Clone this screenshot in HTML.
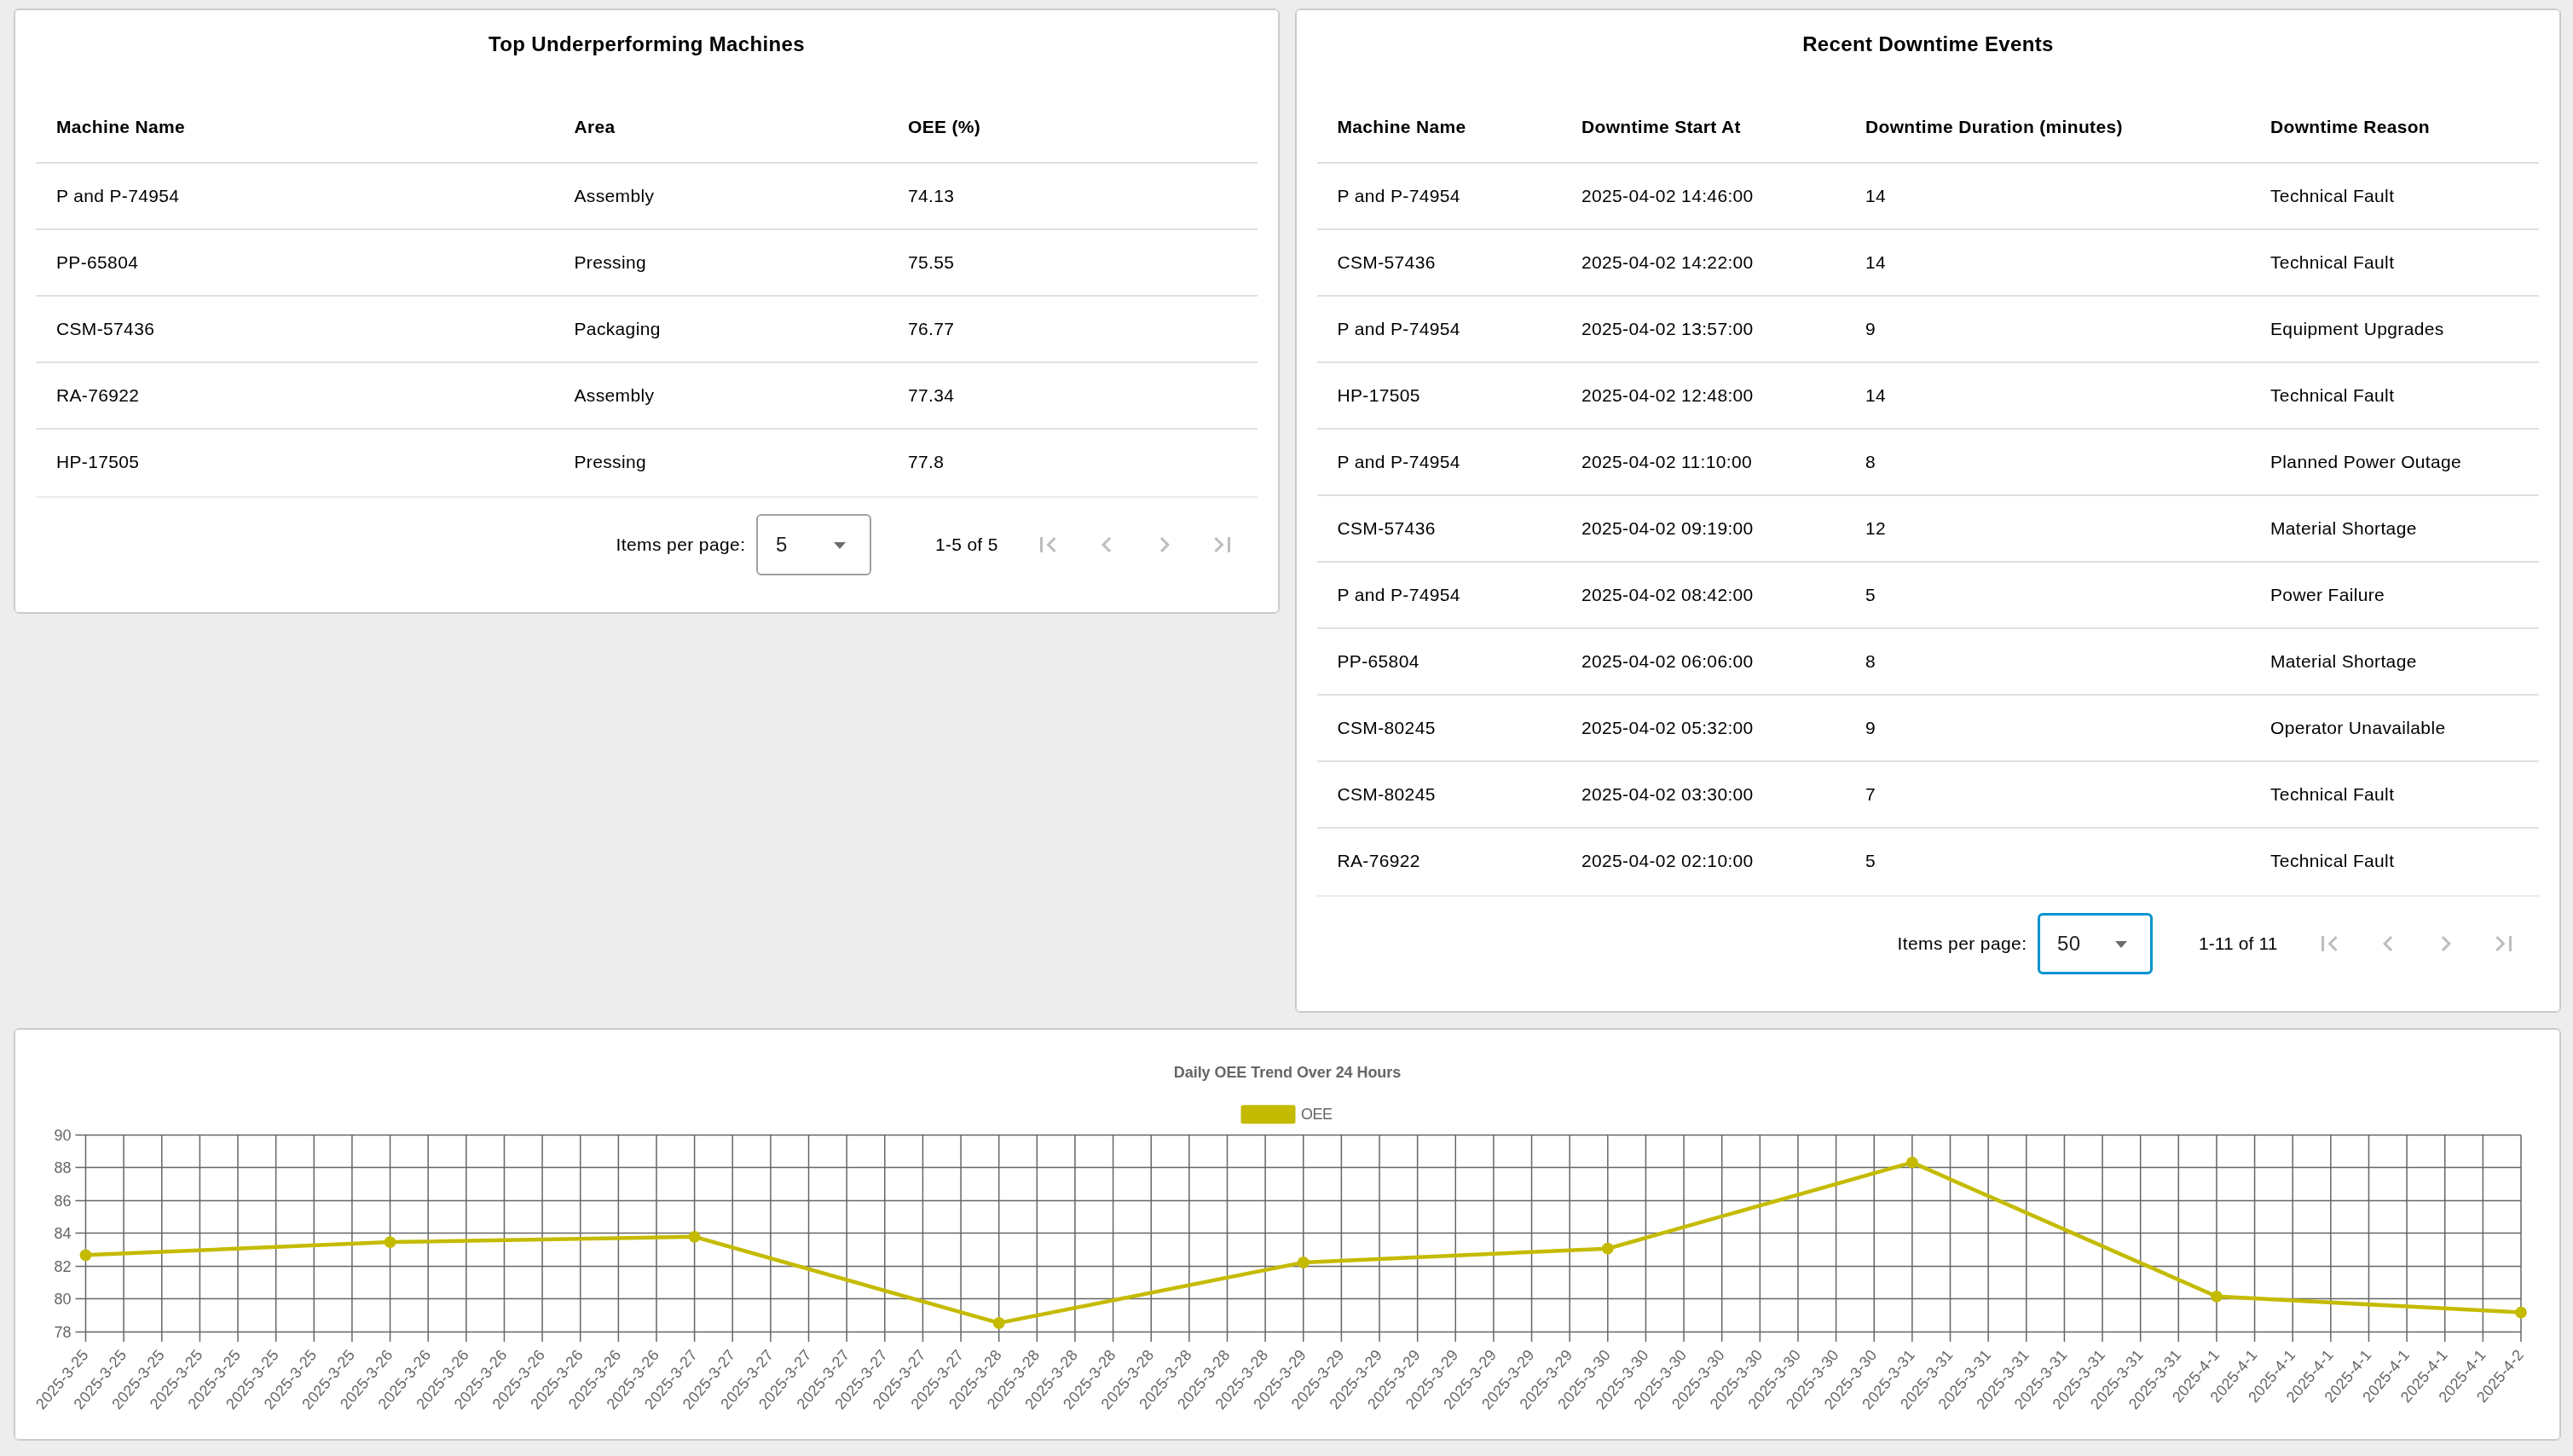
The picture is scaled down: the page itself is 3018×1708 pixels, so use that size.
<!DOCTYPE html>
<html><head><meta charset="utf-8"><title>OEE Dashboard</title>
<style>
*{box-sizing:border-box;margin:0;padding:0}
html,body{width:3018px;height:1708px;overflow:hidden;background:#ededed;font-family:"Liberation Sans",sans-serif;color:#000}
.card{position:absolute;background:#fff;border:1px solid #c9c9c9;border-radius:6px;box-shadow:inset 0 0 0 1px #cdcdcd}
.t{position:absolute;white-space:nowrap;font-size:21px;line-height:21px;letter-spacing:.35px}
.b{font-weight:bold;letter-spacing:.33px}
.ttl{position:absolute;white-space:nowrap;font-weight:bold;font-size:24px;line-height:24px;letter-spacing:.36px;text-align:center}
.ln{position:absolute;height:2px;background:#e0e0e0}
.ln2{position:absolute;height:2px;background:#ececec}
.pg{position:absolute;white-space:nowrap;font-size:21px;line-height:21px;letter-spacing:.4px}
.sel{position:absolute;width:135px;height:72px;border:2px solid #a0a0a0;border-radius:6px}
.sel.f{border:3px solid #0093d0}
.arr{position:absolute;width:0;height:0;border-left:7.5px solid transparent;border-right:7.5px solid transparent;border-top:8px solid #6b6b6b}
.ic{position:absolute;width:36px;height:36px}
</style></head>
<body><div id="root" style="position:absolute;left:0;top:0;width:3018px;height:1708px;will-change:transform">
<div class="card" style="left:16px;top:10px;width:1485px;height:710px"></div>
<div class="card" style="left:1519px;top:10px;width:1485px;height:1178px"></div>
<div class="card" style="left:16px;top:1206px;width:2988px;height:484px"></div>
<div class="ttl" style="left:18px;width:1481px;top:40px">Top Underperforming Machines</div>
<div class="ttl" style="left:1521px;width:1481px;top:40px">Recent Downtime Events</div>
<div class="t b" style="left:66px;top:138px;">Machine Name</div>
<div class="t b" style="left:673.5px;top:138px;">Area</div>
<div class="t b" style="left:1065px;top:138px;">OEE (%)</div>
<div class="ln" style="left:42px;width:1433px;top:190px"></div>
<div class="ln" style="left:42px;width:1433px;top:268px"></div>
<div class="ln" style="left:42px;width:1433px;top:346px"></div>
<div class="ln" style="left:42px;width:1433px;top:424px"></div>
<div class="ln" style="left:42px;width:1433px;top:502px"></div>
<div class="t" style="left:66px;top:219px;">P and P-74954</div>
<div class="t" style="left:673.5px;top:219px;">Assembly</div>
<div class="t" style="left:1065px;top:219px;">74.13</div>
<div class="t" style="left:66px;top:297px;">PP-65804</div>
<div class="t" style="left:673.5px;top:297px;">Pressing</div>
<div class="t" style="left:1065px;top:297px;">75.55</div>
<div class="t" style="left:66px;top:375px;">CSM-57436</div>
<div class="t" style="left:673.5px;top:375px;">Packaging</div>
<div class="t" style="left:1065px;top:375px;">76.77</div>
<div class="t" style="left:66px;top:453px;">RA-76922</div>
<div class="t" style="left:673.5px;top:453px;">Assembly</div>
<div class="t" style="left:1065px;top:453px;">77.34</div>
<div class="t" style="left:66px;top:531px;">HP-17505</div>
<div class="t" style="left:673.5px;top:531px;">Pressing</div>
<div class="t" style="left:1065px;top:531px;">77.8</div>
<div class="ln2" style="left:42px;width:1433px;top:582px"></div>
<div class="t b" style="left:1568.5px;top:138px;">Machine Name</div>
<div class="t b" style="left:1855px;top:138px;">Downtime Start At</div>
<div class="t b" style="left:2188px;top:138px;">Downtime Duration (minutes)</div>
<div class="t b" style="left:2663px;top:138px;">Downtime Reason</div>
<div class="ln" style="left:1545px;width:1433px;top:190px"></div>
<div class="ln" style="left:1545px;width:1433px;top:268px"></div>
<div class="ln" style="left:1545px;width:1433px;top:346px"></div>
<div class="ln" style="left:1545px;width:1433px;top:424px"></div>
<div class="ln" style="left:1545px;width:1433px;top:502px"></div>
<div class="ln" style="left:1545px;width:1433px;top:580px"></div>
<div class="ln" style="left:1545px;width:1433px;top:658px"></div>
<div class="ln" style="left:1545px;width:1433px;top:736px"></div>
<div class="ln" style="left:1545px;width:1433px;top:814px"></div>
<div class="ln" style="left:1545px;width:1433px;top:892px"></div>
<div class="ln" style="left:1545px;width:1433px;top:970px"></div>
<div class="t" style="left:1568.5px;top:219px;">P and P-74954</div>
<div class="t" style="left:1855px;top:219px;">2025-04-02 14:46:00</div>
<div class="t" style="left:2188px;top:219px;">14</div>
<div class="t" style="left:2663px;top:219px;">Technical Fault</div>
<div class="t" style="left:1568.5px;top:297px;">CSM-57436</div>
<div class="t" style="left:1855px;top:297px;">2025-04-02 14:22:00</div>
<div class="t" style="left:2188px;top:297px;">14</div>
<div class="t" style="left:2663px;top:297px;">Technical Fault</div>
<div class="t" style="left:1568.5px;top:375px;">P and P-74954</div>
<div class="t" style="left:1855px;top:375px;">2025-04-02 13:57:00</div>
<div class="t" style="left:2188px;top:375px;">9</div>
<div class="t" style="left:2663px;top:375px;">Equipment Upgrades</div>
<div class="t" style="left:1568.5px;top:453px;">HP-17505</div>
<div class="t" style="left:1855px;top:453px;">2025-04-02 12:48:00</div>
<div class="t" style="left:2188px;top:453px;">14</div>
<div class="t" style="left:2663px;top:453px;">Technical Fault</div>
<div class="t" style="left:1568.5px;top:531px;">P and P-74954</div>
<div class="t" style="left:1855px;top:531px;">2025-04-02 11:10:00</div>
<div class="t" style="left:2188px;top:531px;">8</div>
<div class="t" style="left:2663px;top:531px;">Planned Power Outage</div>
<div class="t" style="left:1568.5px;top:609px;">CSM-57436</div>
<div class="t" style="left:1855px;top:609px;">2025-04-02 09:19:00</div>
<div class="t" style="left:2188px;top:609px;">12</div>
<div class="t" style="left:2663px;top:609px;">Material Shortage</div>
<div class="t" style="left:1568.5px;top:687px;">P and P-74954</div>
<div class="t" style="left:1855px;top:687px;">2025-04-02 08:42:00</div>
<div class="t" style="left:2188px;top:687px;">5</div>
<div class="t" style="left:2663px;top:687px;">Power Failure</div>
<div class="t" style="left:1568.5px;top:765px;">PP-65804</div>
<div class="t" style="left:1855px;top:765px;">2025-04-02 06:06:00</div>
<div class="t" style="left:2188px;top:765px;">8</div>
<div class="t" style="left:2663px;top:765px;">Material Shortage</div>
<div class="t" style="left:1568.5px;top:843px;">CSM-80245</div>
<div class="t" style="left:1855px;top:843px;">2025-04-02 05:32:00</div>
<div class="t" style="left:2188px;top:843px;">9</div>
<div class="t" style="left:2663px;top:843px;">Operator Unavailable</div>
<div class="t" style="left:1568.5px;top:921px;">CSM-80245</div>
<div class="t" style="left:1855px;top:921px;">2025-04-02 03:30:00</div>
<div class="t" style="left:2188px;top:921px;">7</div>
<div class="t" style="left:2663px;top:921px;">Technical Fault</div>
<div class="t" style="left:1568.5px;top:999px;">RA-76922</div>
<div class="t" style="left:1855px;top:999px;">2025-04-02 02:10:00</div>
<div class="t" style="left:2188px;top:999px;">5</div>
<div class="t" style="left:2663px;top:999px;">Technical Fault</div>
<div class="ln2" style="left:1545px;width:1433px;top:1050px"></div>
<div class="pg" style="left:722.5px;top:628px;">Items per page:</div>
<div class="sel" style="left:887px;top:603px"></div>
<div class="pg" style="left:910px;top:627px;color:#212121;letter-spacing:.3px;font-size:24px;line-height:24px">5</div>
<div class="arr" style="left:977.5px;top:636px"></div>
<div class="pg" style="left:1097px;top:628px;letter-spacing:0.3px">1-5 of 5</div>
<svg class="ic" style="left:1211px;top:620.9px" viewBox="0 0 24 24"><path fill="#bdbdbd" d="M18.41 16.59L13.82 12l4.59-4.59L17 6l-6 6 6 6zM6 6h2v12H6z"/></svg>
<svg class="ic" style="left:1279.5px;top:620.9px" viewBox="0 0 24 24"><path fill="#bdbdbd" d="M15.41 7.41L14 6l-6 6 6 6 1.41-1.41L10.83 12z"/></svg>
<svg class="ic" style="left:1348px;top:620.9px" viewBox="0 0 24 24"><path fill="#bdbdbd" d="M10 6L8.59 7.41 13.17 12l-4.58 4.59L10 18l6-6z"/></svg>
<svg class="ic" style="left:1416px;top:620.9px" viewBox="0 0 24 24"><path fill="#bdbdbd" d="M5.59 7.41L10.18 12l-4.59 4.59L7 18l6-6-6-6zM16 6h2v12h-2z"/></svg>
<div class="pg" style="left:2225.5px;top:1096px;">Items per page:</div>
<div class="sel f" style="left:2390px;top:1071px"></div>
<div class="pg" style="left:2413px;top:1095px;color:#212121;letter-spacing:.3px;font-size:24px;line-height:24px">50</div>
<div class="arr" style="left:2480.5px;top:1104px"></div>
<div class="pg" style="left:2579px;top:1096px;letter-spacing:0.1px">1-11 of 11</div>
<svg class="ic" style="left:2714px;top:1088.9px" viewBox="0 0 24 24"><path fill="#bdbdbd" d="M18.41 16.59L13.82 12l4.59-4.59L17 6l-6 6 6 6zM6 6h2v12H6z"/></svg>
<svg class="ic" style="left:2782.5px;top:1088.9px" viewBox="0 0 24 24"><path fill="#bdbdbd" d="M15.41 7.41L14 6l-6 6 6 6 1.41-1.41L10.83 12z"/></svg>
<svg class="ic" style="left:2851px;top:1088.9px" viewBox="0 0 24 24"><path fill="#bdbdbd" d="M10 6L8.59 7.41 13.17 12l-4.58 4.59L10 18l6-6z"/></svg>
<svg class="ic" style="left:2919px;top:1088.9px" viewBox="0 0 24 24"><path fill="#bdbdbd" d="M5.59 7.41L10.18 12l-4.59 4.59L7 18l6-6-6-6zM16 6h2v12h-2z"/></svg>
<svg style="position:absolute;left:0;top:0" width="3018" height="1708" viewBox="0 0 3018 1708" font-family="Liberation Sans, sans-serif">
<text x="1510" y="1264.3" text-anchor="middle" font-size="18" font-weight="bold" fill="#666" letter-spacing="-0.06">Daily OEE Trend Over 24 Hours</text>
<rect x="1457" y="1297.7" width="61" height="19" fill="#c4bb00" stroke="#c4bb00" stroke-width="3" rx="1"/>
<text x="1526" y="1313.3" font-size="18" fill="#666" letter-spacing="-0.45">OEE</text>
<line x1="88.5" y1="1331.50" x2="2957.00" y2="1331.50" stroke="#666" stroke-width="1.5"/>
<text x="83.5" y="1337.80" text-anchor="end" font-size="18" fill="#666">90</text>
<line x1="88.5" y1="1369.50" x2="2957.00" y2="1369.50" stroke="#666" stroke-width="1.5"/>
<text x="83.5" y="1375.80" text-anchor="end" font-size="18" fill="#666">88</text>
<line x1="88.5" y1="1408.50" x2="2957.00" y2="1408.50" stroke="#666" stroke-width="1.5"/>
<text x="83.5" y="1414.80" text-anchor="end" font-size="18" fill="#666">86</text>
<line x1="88.5" y1="1446.50" x2="2957.00" y2="1446.50" stroke="#666" stroke-width="1.5"/>
<text x="83.5" y="1452.80" text-anchor="end" font-size="18" fill="#666">84</text>
<line x1="88.5" y1="1485.50" x2="2957.00" y2="1485.50" stroke="#666" stroke-width="1.5"/>
<text x="83.5" y="1491.80" text-anchor="end" font-size="18" fill="#666">82</text>
<line x1="88.5" y1="1523.50" x2="2957.00" y2="1523.50" stroke="#666" stroke-width="1.5"/>
<text x="83.5" y="1529.80" text-anchor="end" font-size="18" fill="#666">80</text>
<line x1="88.5" y1="1562.50" x2="2957.00" y2="1562.50" stroke="#666" stroke-width="1.5"/>
<text x="83.5" y="1568.80" text-anchor="end" font-size="18" fill="#666">78</text>
<line x1="100.50" y1="1331.50" x2="100.50" y2="1574" stroke="#666" stroke-width="1.5"/>
<line x1="145.13" y1="1331.50" x2="145.13" y2="1574" stroke="#666" stroke-width="1.5"/>
<line x1="189.77" y1="1331.50" x2="189.77" y2="1574" stroke="#666" stroke-width="1.5"/>
<line x1="234.40" y1="1331.50" x2="234.40" y2="1574" stroke="#666" stroke-width="1.5"/>
<line x1="279.03" y1="1331.50" x2="279.03" y2="1574" stroke="#666" stroke-width="1.5"/>
<line x1="323.66" y1="1331.50" x2="323.66" y2="1574" stroke="#666" stroke-width="1.5"/>
<line x1="368.30" y1="1331.50" x2="368.30" y2="1574" stroke="#666" stroke-width="1.5"/>
<line x1="412.93" y1="1331.50" x2="412.93" y2="1574" stroke="#666" stroke-width="1.5"/>
<line x1="457.56" y1="1331.50" x2="457.56" y2="1574" stroke="#666" stroke-width="1.5"/>
<line x1="502.20" y1="1331.50" x2="502.20" y2="1574" stroke="#666" stroke-width="1.5"/>
<line x1="546.83" y1="1331.50" x2="546.83" y2="1574" stroke="#666" stroke-width="1.5"/>
<line x1="591.46" y1="1331.50" x2="591.46" y2="1574" stroke="#666" stroke-width="1.5"/>
<line x1="636.09" y1="1331.50" x2="636.09" y2="1574" stroke="#666" stroke-width="1.5"/>
<line x1="680.73" y1="1331.50" x2="680.73" y2="1574" stroke="#666" stroke-width="1.5"/>
<line x1="725.36" y1="1331.50" x2="725.36" y2="1574" stroke="#666" stroke-width="1.5"/>
<line x1="769.99" y1="1331.50" x2="769.99" y2="1574" stroke="#666" stroke-width="1.5"/>
<line x1="814.62" y1="1331.50" x2="814.62" y2="1574" stroke="#666" stroke-width="1.5"/>
<line x1="859.26" y1="1331.50" x2="859.26" y2="1574" stroke="#666" stroke-width="1.5"/>
<line x1="903.89" y1="1331.50" x2="903.89" y2="1574" stroke="#666" stroke-width="1.5"/>
<line x1="948.52" y1="1331.50" x2="948.52" y2="1574" stroke="#666" stroke-width="1.5"/>
<line x1="993.16" y1="1331.50" x2="993.16" y2="1574" stroke="#666" stroke-width="1.5"/>
<line x1="1037.79" y1="1331.50" x2="1037.79" y2="1574" stroke="#666" stroke-width="1.5"/>
<line x1="1082.42" y1="1331.50" x2="1082.42" y2="1574" stroke="#666" stroke-width="1.5"/>
<line x1="1127.05" y1="1331.50" x2="1127.05" y2="1574" stroke="#666" stroke-width="1.5"/>
<line x1="1171.69" y1="1331.50" x2="1171.69" y2="1574" stroke="#666" stroke-width="1.5"/>
<line x1="1216.32" y1="1331.50" x2="1216.32" y2="1574" stroke="#666" stroke-width="1.5"/>
<line x1="1260.95" y1="1331.50" x2="1260.95" y2="1574" stroke="#666" stroke-width="1.5"/>
<line x1="1305.59" y1="1331.50" x2="1305.59" y2="1574" stroke="#666" stroke-width="1.5"/>
<line x1="1350.22" y1="1331.50" x2="1350.22" y2="1574" stroke="#666" stroke-width="1.5"/>
<line x1="1394.85" y1="1331.50" x2="1394.85" y2="1574" stroke="#666" stroke-width="1.5"/>
<line x1="1439.48" y1="1331.50" x2="1439.48" y2="1574" stroke="#666" stroke-width="1.5"/>
<line x1="1484.12" y1="1331.50" x2="1484.12" y2="1574" stroke="#666" stroke-width="1.5"/>
<line x1="1528.75" y1="1331.50" x2="1528.75" y2="1574" stroke="#666" stroke-width="1.5"/>
<line x1="1573.38" y1="1331.50" x2="1573.38" y2="1574" stroke="#666" stroke-width="1.5"/>
<line x1="1618.02" y1="1331.50" x2="1618.02" y2="1574" stroke="#666" stroke-width="1.5"/>
<line x1="1662.65" y1="1331.50" x2="1662.65" y2="1574" stroke="#666" stroke-width="1.5"/>
<line x1="1707.28" y1="1331.50" x2="1707.28" y2="1574" stroke="#666" stroke-width="1.5"/>
<line x1="1751.91" y1="1331.50" x2="1751.91" y2="1574" stroke="#666" stroke-width="1.5"/>
<line x1="1796.55" y1="1331.50" x2="1796.55" y2="1574" stroke="#666" stroke-width="1.5"/>
<line x1="1841.18" y1="1331.50" x2="1841.18" y2="1574" stroke="#666" stroke-width="1.5"/>
<line x1="1885.81" y1="1331.50" x2="1885.81" y2="1574" stroke="#666" stroke-width="1.5"/>
<line x1="1930.45" y1="1331.50" x2="1930.45" y2="1574" stroke="#666" stroke-width="1.5"/>
<line x1="1975.08" y1="1331.50" x2="1975.08" y2="1574" stroke="#666" stroke-width="1.5"/>
<line x1="2019.71" y1="1331.50" x2="2019.71" y2="1574" stroke="#666" stroke-width="1.5"/>
<line x1="2064.34" y1="1331.50" x2="2064.34" y2="1574" stroke="#666" stroke-width="1.5"/>
<line x1="2108.98" y1="1331.50" x2="2108.98" y2="1574" stroke="#666" stroke-width="1.5"/>
<line x1="2153.61" y1="1331.50" x2="2153.61" y2="1574" stroke="#666" stroke-width="1.5"/>
<line x1="2198.24" y1="1331.50" x2="2198.24" y2="1574" stroke="#666" stroke-width="1.5"/>
<line x1="2242.88" y1="1331.50" x2="2242.88" y2="1574" stroke="#666" stroke-width="1.5"/>
<line x1="2287.51" y1="1331.50" x2="2287.51" y2="1574" stroke="#666" stroke-width="1.5"/>
<line x1="2332.14" y1="1331.50" x2="2332.14" y2="1574" stroke="#666" stroke-width="1.5"/>
<line x1="2376.77" y1="1331.50" x2="2376.77" y2="1574" stroke="#666" stroke-width="1.5"/>
<line x1="2421.41" y1="1331.50" x2="2421.41" y2="1574" stroke="#666" stroke-width="1.5"/>
<line x1="2466.04" y1="1331.50" x2="2466.04" y2="1574" stroke="#666" stroke-width="1.5"/>
<line x1="2510.67" y1="1331.50" x2="2510.67" y2="1574" stroke="#666" stroke-width="1.5"/>
<line x1="2555.30" y1="1331.50" x2="2555.30" y2="1574" stroke="#666" stroke-width="1.5"/>
<line x1="2599.94" y1="1331.50" x2="2599.94" y2="1574" stroke="#666" stroke-width="1.5"/>
<line x1="2644.57" y1="1331.50" x2="2644.57" y2="1574" stroke="#666" stroke-width="1.5"/>
<line x1="2689.20" y1="1331.50" x2="2689.20" y2="1574" stroke="#666" stroke-width="1.5"/>
<line x1="2733.84" y1="1331.50" x2="2733.84" y2="1574" stroke="#666" stroke-width="1.5"/>
<line x1="2778.47" y1="1331.50" x2="2778.47" y2="1574" stroke="#666" stroke-width="1.5"/>
<line x1="2823.10" y1="1331.50" x2="2823.10" y2="1574" stroke="#666" stroke-width="1.5"/>
<line x1="2867.73" y1="1331.50" x2="2867.73" y2="1574" stroke="#666" stroke-width="1.5"/>
<line x1="2912.37" y1="1331.50" x2="2912.37" y2="1574" stroke="#666" stroke-width="1.5"/>
<line x1="2957.00" y1="1331.50" x2="2957.00" y2="1574" stroke="#666" stroke-width="1.5"/>
<text transform="translate(101.00,1586.5) rotate(-50)" text-anchor="end" dominant-baseline="middle" font-size="18" fill="#666" letter-spacing="0.3">2025-3-25</text>
<text transform="translate(145.63,1586.5) rotate(-50)" text-anchor="end" dominant-baseline="middle" font-size="18" fill="#666" letter-spacing="0.3">2025-3-25</text>
<text transform="translate(190.27,1586.5) rotate(-50)" text-anchor="end" dominant-baseline="middle" font-size="18" fill="#666" letter-spacing="0.3">2025-3-25</text>
<text transform="translate(234.90,1586.5) rotate(-50)" text-anchor="end" dominant-baseline="middle" font-size="18" fill="#666" letter-spacing="0.3">2025-3-25</text>
<text transform="translate(279.53,1586.5) rotate(-50)" text-anchor="end" dominant-baseline="middle" font-size="18" fill="#666" letter-spacing="0.3">2025-3-25</text>
<text transform="translate(324.16,1586.5) rotate(-50)" text-anchor="end" dominant-baseline="middle" font-size="18" fill="#666" letter-spacing="0.3">2025-3-25</text>
<text transform="translate(368.80,1586.5) rotate(-50)" text-anchor="end" dominant-baseline="middle" font-size="18" fill="#666" letter-spacing="0.3">2025-3-25</text>
<text transform="translate(413.43,1586.5) rotate(-50)" text-anchor="end" dominant-baseline="middle" font-size="18" fill="#666" letter-spacing="0.3">2025-3-25</text>
<text transform="translate(458.06,1586.5) rotate(-50)" text-anchor="end" dominant-baseline="middle" font-size="18" fill="#666" letter-spacing="0.3">2025-3-26</text>
<text transform="translate(502.70,1586.5) rotate(-50)" text-anchor="end" dominant-baseline="middle" font-size="18" fill="#666" letter-spacing="0.3">2025-3-26</text>
<text transform="translate(547.33,1586.5) rotate(-50)" text-anchor="end" dominant-baseline="middle" font-size="18" fill="#666" letter-spacing="0.3">2025-3-26</text>
<text transform="translate(591.96,1586.5) rotate(-50)" text-anchor="end" dominant-baseline="middle" font-size="18" fill="#666" letter-spacing="0.3">2025-3-26</text>
<text transform="translate(636.59,1586.5) rotate(-50)" text-anchor="end" dominant-baseline="middle" font-size="18" fill="#666" letter-spacing="0.3">2025-3-26</text>
<text transform="translate(681.23,1586.5) rotate(-50)" text-anchor="end" dominant-baseline="middle" font-size="18" fill="#666" letter-spacing="0.3">2025-3-26</text>
<text transform="translate(725.86,1586.5) rotate(-50)" text-anchor="end" dominant-baseline="middle" font-size="18" fill="#666" letter-spacing="0.3">2025-3-26</text>
<text transform="translate(770.49,1586.5) rotate(-50)" text-anchor="end" dominant-baseline="middle" font-size="18" fill="#666" letter-spacing="0.3">2025-3-26</text>
<text transform="translate(815.12,1586.5) rotate(-50)" text-anchor="end" dominant-baseline="middle" font-size="18" fill="#666" letter-spacing="0.3">2025-3-27</text>
<text transform="translate(859.76,1586.5) rotate(-50)" text-anchor="end" dominant-baseline="middle" font-size="18" fill="#666" letter-spacing="0.3">2025-3-27</text>
<text transform="translate(904.39,1586.5) rotate(-50)" text-anchor="end" dominant-baseline="middle" font-size="18" fill="#666" letter-spacing="0.3">2025-3-27</text>
<text transform="translate(949.02,1586.5) rotate(-50)" text-anchor="end" dominant-baseline="middle" font-size="18" fill="#666" letter-spacing="0.3">2025-3-27</text>
<text transform="translate(993.66,1586.5) rotate(-50)" text-anchor="end" dominant-baseline="middle" font-size="18" fill="#666" letter-spacing="0.3">2025-3-27</text>
<text transform="translate(1038.29,1586.5) rotate(-50)" text-anchor="end" dominant-baseline="middle" font-size="18" fill="#666" letter-spacing="0.3">2025-3-27</text>
<text transform="translate(1082.92,1586.5) rotate(-50)" text-anchor="end" dominant-baseline="middle" font-size="18" fill="#666" letter-spacing="0.3">2025-3-27</text>
<text transform="translate(1127.55,1586.5) rotate(-50)" text-anchor="end" dominant-baseline="middle" font-size="18" fill="#666" letter-spacing="0.3">2025-3-27</text>
<text transform="translate(1172.19,1586.5) rotate(-50)" text-anchor="end" dominant-baseline="middle" font-size="18" fill="#666" letter-spacing="0.3">2025-3-28</text>
<text transform="translate(1216.82,1586.5) rotate(-50)" text-anchor="end" dominant-baseline="middle" font-size="18" fill="#666" letter-spacing="0.3">2025-3-28</text>
<text transform="translate(1261.45,1586.5) rotate(-50)" text-anchor="end" dominant-baseline="middle" font-size="18" fill="#666" letter-spacing="0.3">2025-3-28</text>
<text transform="translate(1306.09,1586.5) rotate(-50)" text-anchor="end" dominant-baseline="middle" font-size="18" fill="#666" letter-spacing="0.3">2025-3-28</text>
<text transform="translate(1350.72,1586.5) rotate(-50)" text-anchor="end" dominant-baseline="middle" font-size="18" fill="#666" letter-spacing="0.3">2025-3-28</text>
<text transform="translate(1395.35,1586.5) rotate(-50)" text-anchor="end" dominant-baseline="middle" font-size="18" fill="#666" letter-spacing="0.3">2025-3-28</text>
<text transform="translate(1439.98,1586.5) rotate(-50)" text-anchor="end" dominant-baseline="middle" font-size="18" fill="#666" letter-spacing="0.3">2025-3-28</text>
<text transform="translate(1484.62,1586.5) rotate(-50)" text-anchor="end" dominant-baseline="middle" font-size="18" fill="#666" letter-spacing="0.3">2025-3-28</text>
<text transform="translate(1529.25,1586.5) rotate(-50)" text-anchor="end" dominant-baseline="middle" font-size="18" fill="#666" letter-spacing="0.3">2025-3-29</text>
<text transform="translate(1573.88,1586.5) rotate(-50)" text-anchor="end" dominant-baseline="middle" font-size="18" fill="#666" letter-spacing="0.3">2025-3-29</text>
<text transform="translate(1618.52,1586.5) rotate(-50)" text-anchor="end" dominant-baseline="middle" font-size="18" fill="#666" letter-spacing="0.3">2025-3-29</text>
<text transform="translate(1663.15,1586.5) rotate(-50)" text-anchor="end" dominant-baseline="middle" font-size="18" fill="#666" letter-spacing="0.3">2025-3-29</text>
<text transform="translate(1707.78,1586.5) rotate(-50)" text-anchor="end" dominant-baseline="middle" font-size="18" fill="#666" letter-spacing="0.3">2025-3-29</text>
<text transform="translate(1752.41,1586.5) rotate(-50)" text-anchor="end" dominant-baseline="middle" font-size="18" fill="#666" letter-spacing="0.3">2025-3-29</text>
<text transform="translate(1797.05,1586.5) rotate(-50)" text-anchor="end" dominant-baseline="middle" font-size="18" fill="#666" letter-spacing="0.3">2025-3-29</text>
<text transform="translate(1841.68,1586.5) rotate(-50)" text-anchor="end" dominant-baseline="middle" font-size="18" fill="#666" letter-spacing="0.3">2025-3-29</text>
<text transform="translate(1886.31,1586.5) rotate(-50)" text-anchor="end" dominant-baseline="middle" font-size="18" fill="#666" letter-spacing="0.3">2025-3-30</text>
<text transform="translate(1930.95,1586.5) rotate(-50)" text-anchor="end" dominant-baseline="middle" font-size="18" fill="#666" letter-spacing="0.3">2025-3-30</text>
<text transform="translate(1975.58,1586.5) rotate(-50)" text-anchor="end" dominant-baseline="middle" font-size="18" fill="#666" letter-spacing="0.3">2025-3-30</text>
<text transform="translate(2020.21,1586.5) rotate(-50)" text-anchor="end" dominant-baseline="middle" font-size="18" fill="#666" letter-spacing="0.3">2025-3-30</text>
<text transform="translate(2064.84,1586.5) rotate(-50)" text-anchor="end" dominant-baseline="middle" font-size="18" fill="#666" letter-spacing="0.3">2025-3-30</text>
<text transform="translate(2109.48,1586.5) rotate(-50)" text-anchor="end" dominant-baseline="middle" font-size="18" fill="#666" letter-spacing="0.3">2025-3-30</text>
<text transform="translate(2154.11,1586.5) rotate(-50)" text-anchor="end" dominant-baseline="middle" font-size="18" fill="#666" letter-spacing="0.3">2025-3-30</text>
<text transform="translate(2198.74,1586.5) rotate(-50)" text-anchor="end" dominant-baseline="middle" font-size="18" fill="#666" letter-spacing="0.3">2025-3-30</text>
<text transform="translate(2243.38,1586.5) rotate(-50)" text-anchor="end" dominant-baseline="middle" font-size="18" fill="#666" letter-spacing="0.3">2025-3-31</text>
<text transform="translate(2288.01,1586.5) rotate(-50)" text-anchor="end" dominant-baseline="middle" font-size="18" fill="#666" letter-spacing="0.3">2025-3-31</text>
<text transform="translate(2332.64,1586.5) rotate(-50)" text-anchor="end" dominant-baseline="middle" font-size="18" fill="#666" letter-spacing="0.3">2025-3-31</text>
<text transform="translate(2377.27,1586.5) rotate(-50)" text-anchor="end" dominant-baseline="middle" font-size="18" fill="#666" letter-spacing="0.3">2025-3-31</text>
<text transform="translate(2421.91,1586.5) rotate(-50)" text-anchor="end" dominant-baseline="middle" font-size="18" fill="#666" letter-spacing="0.3">2025-3-31</text>
<text transform="translate(2466.54,1586.5) rotate(-50)" text-anchor="end" dominant-baseline="middle" font-size="18" fill="#666" letter-spacing="0.3">2025-3-31</text>
<text transform="translate(2511.17,1586.5) rotate(-50)" text-anchor="end" dominant-baseline="middle" font-size="18" fill="#666" letter-spacing="0.3">2025-3-31</text>
<text transform="translate(2555.80,1586.5) rotate(-50)" text-anchor="end" dominant-baseline="middle" font-size="18" fill="#666" letter-spacing="0.3">2025-3-31</text>
<text transform="translate(2600.44,1586.5) rotate(-50)" text-anchor="end" dominant-baseline="middle" font-size="18" fill="#666" letter-spacing="0.3">2025-4-1</text>
<text transform="translate(2645.07,1586.5) rotate(-50)" text-anchor="end" dominant-baseline="middle" font-size="18" fill="#666" letter-spacing="0.3">2025-4-1</text>
<text transform="translate(2689.70,1586.5) rotate(-50)" text-anchor="end" dominant-baseline="middle" font-size="18" fill="#666" letter-spacing="0.3">2025-4-1</text>
<text transform="translate(2734.34,1586.5) rotate(-50)" text-anchor="end" dominant-baseline="middle" font-size="18" fill="#666" letter-spacing="0.3">2025-4-1</text>
<text transform="translate(2778.97,1586.5) rotate(-50)" text-anchor="end" dominant-baseline="middle" font-size="18" fill="#666" letter-spacing="0.3">2025-4-1</text>
<text transform="translate(2823.60,1586.5) rotate(-50)" text-anchor="end" dominant-baseline="middle" font-size="18" fill="#666" letter-spacing="0.3">2025-4-1</text>
<text transform="translate(2868.23,1586.5) rotate(-50)" text-anchor="end" dominant-baseline="middle" font-size="18" fill="#666" letter-spacing="0.3">2025-4-1</text>
<text transform="translate(2912.87,1586.5) rotate(-50)" text-anchor="end" dominant-baseline="middle" font-size="18" fill="#666" letter-spacing="0.3">2025-4-1</text>
<text transform="translate(2957.50,1586.5) rotate(-50)" text-anchor="end" dominant-baseline="middle" font-size="18" fill="#666" letter-spacing="0.3">2025-4-2</text>
<polyline points="100.50,1472.3 457.56,1457.1 814.62,1450.8 1171.69,1552.0 1528.75,1481 1885.81,1464.7 2242.88,1363.7 2599.94,1520.8 2957.00,1539.6" fill="none" stroke="#c4bb00" stroke-width="4.5" stroke-linejoin="miter"/>
<circle cx="100.50" cy="1472.3" r="6.9" fill="#c4bb00"/>
<circle cx="457.56" cy="1457.1" r="6.9" fill="#c4bb00"/>
<circle cx="814.62" cy="1450.8" r="6.9" fill="#c4bb00"/>
<circle cx="1171.69" cy="1552.0" r="6.9" fill="#c4bb00"/>
<circle cx="1528.75" cy="1481" r="6.9" fill="#c4bb00"/>
<circle cx="1885.81" cy="1464.7" r="6.9" fill="#c4bb00"/>
<circle cx="2242.88" cy="1363.7" r="6.9" fill="#c4bb00"/>
<circle cx="2599.94" cy="1520.8" r="6.9" fill="#c4bb00"/>
<circle cx="2957.00" cy="1539.6" r="6.9" fill="#c4bb00"/>
</svg>
</div></body></html>
